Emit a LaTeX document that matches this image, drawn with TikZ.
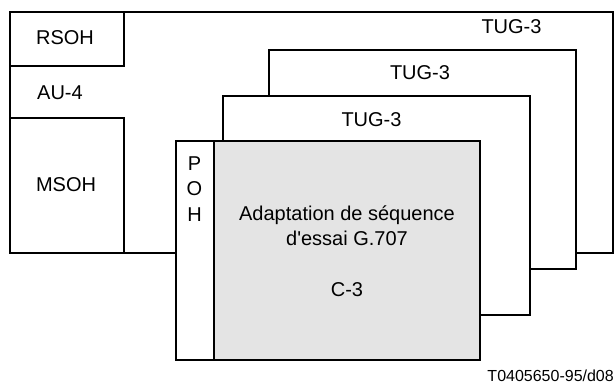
\documentclass[tikz,border=0pt]{standalone}
\usepackage{fontspec}
\setmainfont{Liberation Sans}[Ligatures=TeXOff]
\definecolor{lightfill}{RGB}{228,228,228}
\begin{document}
\begin{tikzpicture}[x=1pt,y=-1pt,
  box/.style={draw=black, line width=1.6pt, rectangle, inner sep=0pt, outer sep=0pt},
  lbl/.style={inner sep=0pt, font=\fontsize{20}{24}\selectfont},
  small/.style={inner sep=0pt, font=\fontsize{16}{19}\selectfont}]
\useasboundingbox (0,0) rectangle (615,383);
% outer AU-4 / back TUG-3
\node[box, minimum width=603pt, minimum height=241pt] (au4) at (311.5,132.5) {};
\node[box, minimum width=114pt, minimum height=54pt] (rsoh) at (67,39) {};
\node[box, minimum width=114pt, minimum height=135pt] (msoh) at (67,185.5) {};
% middle TUG-3 boxes
\node[box, fill=white, minimum width=307pt, minimum height=219pt] (tugb) at (422.5,159.5) {};
\node[box, fill=white, minimum width=307pt, minimum height=219pt] (tugc) at (376.5,205.5) {};
% front container
\node[box, fill=white, minimum width=38pt, minimum height=219pt] (poh) at (195,250.5) {};
\node[box, fill=lightfill, minimum width=266pt, minimum height=219pt] (c3) at (347,250.5) {};
\draw[line width=2.6pt] (c3.north west) -- (c3.south west);
% labels
\node[lbl, anchor=base] (trsoh) at (65,44.5) {RSOH};
\node[lbl, anchor=base] (tau4) at (60,99.5) {AU-4};
\node[lbl, anchor=base] (tmsoh) at (66,191.5) {MSOH};
\node[lbl, anchor=base] (tuga) at (511.5,33.5) {TUG-3};
\node[lbl, anchor=base] (ttugb) at (420,79.5) {TUG-3};
\node[lbl, anchor=base] (ttugc) at (371.5,126) {TUG-3};
\node[lbl, anchor=base] (tp) at (194.5,170) {P};
\node[lbl, anchor=base] (to) at (194.5,195.5) {O};
\node[lbl, anchor=base] (th) at (194.5,221) {H};
\node[lbl, anchor=base] (l1) at (347,220) {Adaptation de séquence};
\node[lbl, anchor=base] (l2) at (347,245) {d'essai G.707};
\node[lbl, anchor=base] (l3) at (347,296) {C-3};
\node[small, anchor=base east] (ref) at (614,381) {T0405650-95/d08};
\end{tikzpicture}
\end{document}
